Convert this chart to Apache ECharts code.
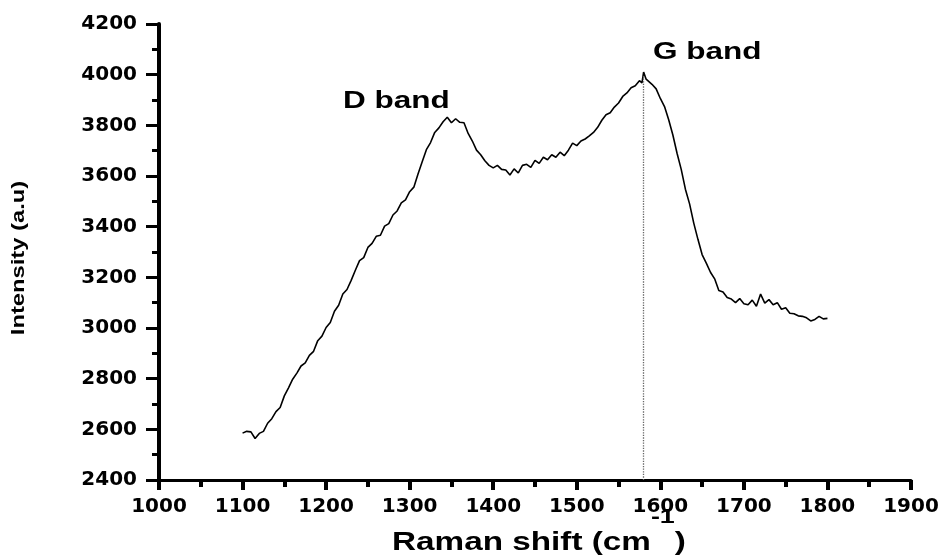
<!DOCTYPE html>
<html>
<head>
<meta charset="utf-8">
<script src="https://cdn.jsdelivr.net/npm/echarts/dist/echarts.min.js"></script>
<style>
html,body{margin:0;padding:0;background:#fff;}
#chart{width:942px;height:560px;}
</style>
</head>
<body>
<div id="chart"></div>
<script>
const ramanShift = [1100,1105,1110,1115,1120,1125,1130,1135,1140,1145,1150,1155,1160,1165,1170,1175,1180,1185,1190,1195,1200,1205,1210,1215,1220,1225,1230,1235,1240,1245,1250,1255,1260,1265,1270,1275,1280,1285,1290,1295,1300,1305,1310,1315,1320,1325,1330,1335,1340,1345,1350,1355,1360,1365,1370,1375,1380,1385,1390,1395,1400,1405,1410,1415,1420,1425,1430,1435,1440,1445,1450,1455,1460,1465,1470,1475,1480,1485,1490,1495,1500,1505,1510,1515,1520,1525,1530,1535,1540,1545,1550,1555,1560,1565,1570,1575,1578,1580,1583,1585,1590,1595,1600,1605,1610,1615,1620,1625,1630,1635,1640,1645,1650,1655,1660,1665,1670,1675,1680,1685,1690,1695,1700,1705,1710,1715,1720,1725,1730,1735,1740,1745,1750,1755,1760,1765,1770,1775,1780,1785,1790,1795,1800];
const intensity = [2585,2592,2590,2564,2584,2592,2624,2642,2670,2686,2732,2764,2798,2822,2850,2862,2892,2908,2950,2968,3002,3022,3066,3090,3134,3152,3188,3228,3266,3278,3318,3334,3362,3366,3402,3412,3446,3462,3494,3506,3538,3556,3608,3656,3704,3732,3772,3790,3814,3832,3810,3826,3812,3810,3768,3738,3702,3684,3660,3642,3632,3642,3626,3624,3604,3628,3612,3642,3646,3634,3662,3650,3674,3664,3684,3674,3694,3680,3702,3730,3720,3738,3746,3758,3772,3792,3820,3842,3850,3872,3888,3914,3928,3948,3956,3976,3968,4010,3982,3980,3962,3944,3906,3874,3822,3762,3690,3626,3548,3490,3414,3350,3290,3256,3220,3194,3148,3142,3120,3114,3100,3116,3096,3092,3110,3086,3134,3098,3112,3092,3100,3074,3080,3058,3056,3048,3046,3040,3028,3034,3046,3036,3038];
const xTicks = {min: 1000, max: 1900, step: 100};
const yTicks = {min: 2400, max: 4200, step: 200};
const gBandPosition = 1579;
const gBandLineTop = 3995;
const bandLabels = ['D band', 'G band'];
const xTitleMain = 'Raman shift (cm';
const xTitleSup = '-1';
const yTitle = 'Intensity (a.u)';

const chart = echarts.init(document.getElementById('chart'), null, {renderer: 'canvas'});
const lineData = ramanShift.map((x, i) => [x, intensity[i]]);
const labelFont = '"DejaVu Sans", sans-serif';
const titleFont = '"Liberation Sans", Arial, sans-serif';
const plain = v => String(v);

chart.setOption({
  animation: false,
  backgroundColor: '#ffffff',
  grid: {left: 159, right: 31, top: 24, bottom: 80, containLabel: false},
  xAxis: {
    type: 'value', min: xTicks.min, max: xTicks.max, interval: xTicks.step,
    axisLine: {show: true, onZero: false, lineStyle: {color: '#000', width: 3}},
    axisTick: {show: true, inside: false, length: 10, lineStyle: {color: '#000', width: 4}},
    minorTick: {show: true, splitNumber: 2, length: 7, lineStyle: {color: '#000', width: 4}},
    splitLine: {show: false},
    axisLabel: {color: '#000', fontFamily: labelFont, fontWeight: 'bold', fontSize: 20, margin: 17, formatter: plain}
  },
  yAxis: {
    type: 'value', min: yTicks.min, max: yTicks.max, interval: yTicks.step,
    axisLine: {show: true, onZero: false, lineStyle: {color: '#000', width: 4}},
    axisTick: {show: true, inside: false, length: 13, lineStyle: {color: '#000', width: 3}},
    minorTick: {show: true, splitNumber: 2, length: 7, lineStyle: {color: '#000', width: 3}},
    splitLine: {show: false},
    axisLabel: {color: '#000', fontFamily: labelFont, fontWeight: 'bold', fontSize: 20, margin: 22, formatter: plain}
  },
  series: [{
    type: 'line',
    data: lineData,
    showSymbol: false,
    symbol: 'none',
    lineStyle: {color: '#000', width: 1.6},
    markLine: {
      silent: true,
      symbol: ['none', 'none'],
      label: {show: false},
      lineStyle: {color: '#666', type: 'dotted', width: 1.3},
      data: [[{coord: [gBandPosition, gBandLineTop]}, {coord: [gBandPosition, yTicks.min]}]]
    }
  }],
  graphic: [
    {type: 'text', x: 343, y: 102, scaleX: 1.37, silent: true,
     style: {text: bandLabels[0], fontFamily: titleFont, fontWeight: 'bold', fontSize: 23, fill: '#000', align: 'left', verticalAlign: 'middle'}},
    {type: 'text', x: 653, y: 53, scaleX: 1.37, silent: true,
     style: {text: bandLabels[1], fontFamily: titleFont, fontWeight: 'bold', fontSize: 23, fill: '#000', align: 'left', verticalAlign: 'middle'}},
    {type: 'text', x: 19, y: 258, rotation: Math.PI / 2, scaleX: 1.32, silent: true,
     style: {text: yTitle, fontFamily: titleFont, fontWeight: 'bold', fontSize: 18, fill: '#000', align: 'center', verticalAlign: 'middle'}},
    {type: 'text', x: 392, y: 543, scaleX: 1.28, silent: true,
     style: {
       text: '{m|' + xTitleMain + '}{s|' + xTitleSup + '}{m|)}',
       fill: '#000', align: 'left', verticalAlign: 'middle',
       rich: {
         m: {fontFamily: titleFont, fontWeight: 'bold', fontSize: 26, lineHeight: 72, fill: '#000'},
         s: {fontFamily: titleFont, fontWeight: 'bold', fontSize: 21, lineHeight: 22, verticalAlign: 'top', fill: '#000'}
       }
     }}
  ]
});
</script>
</body>
</html>
